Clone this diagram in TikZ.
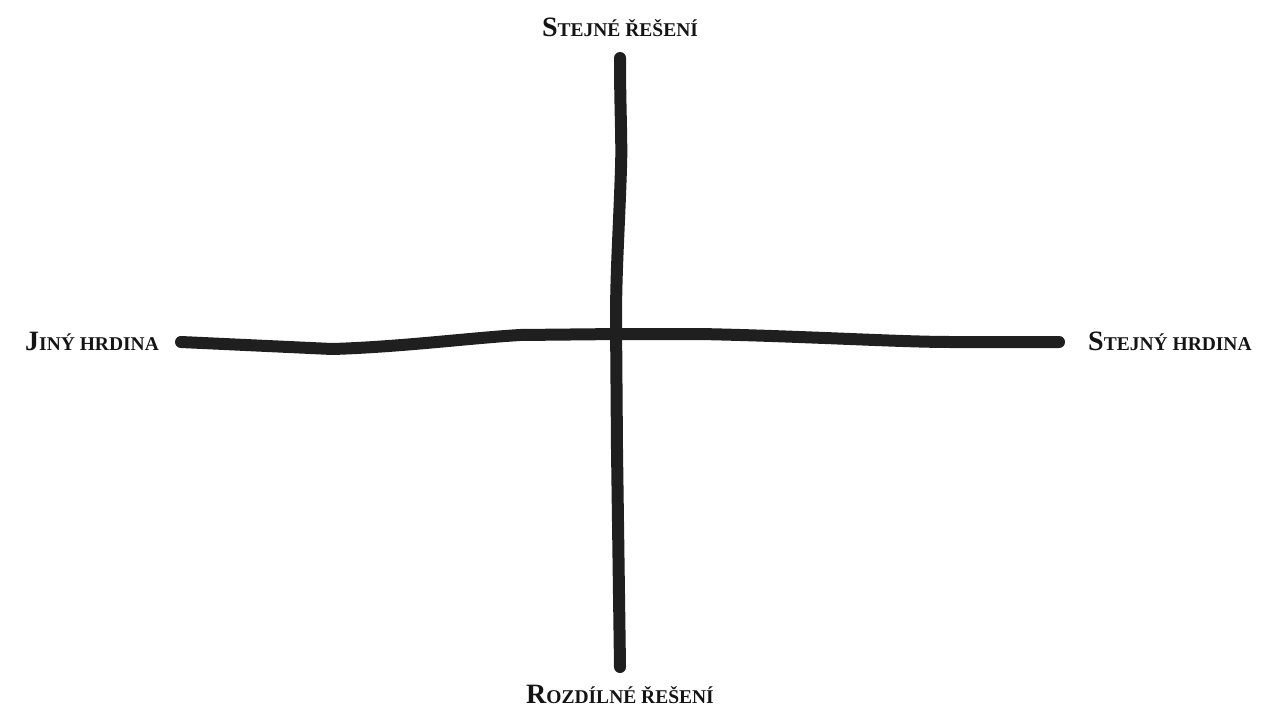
\documentclass[tikz,border=0pt]{standalone}
\usepackage{fontspec}
\setmainfont{Liberation Serif}
\newcommand{\capslbl}[2]{{\bfseries\fontsize{28}{28}\selectfont #1}{\bfseries\fontsize{19.5}{20}\selectfont #2}}
\begin{document}
\begin{tikzpicture}[x=1pt,y=-1pt,
  axisline/.style={line width=12pt, color=black!88, line cap=round, line join=round},
  lbl/.style={inner sep=0pt, text=black!92}]
\useasboundingbox (0,0) rectangle (1284,709);
\coordinate (top) at (620,58);
\coordinate (bot) at (620,667);
\coordinate (lft) at (181,342);
\coordinate (rgt) at (1059,342);
\draw[axisline] (top) .. controls (620,110) and (622,140) .. (621,168)
  .. controls (619,230) and (616,270) .. (616,320)
  -- (617,450) -- (bot);
\draw[axisline] (lft) -- (332,349) .. controls (400,347) and (470,338) .. (520,335)
  -- (620,334) -- (700,334) .. controls (800,336) and (900,342) .. (950,342) -- (rgt);
\node[lbl, anchor=base] (tl) at (620,37) {\capslbl{S}{TEJNÉ ŘEŠENÍ}};
\node[lbl, anchor=base] (bl) at (620,703) {\capslbl{R}{OZDÍLNÉ ŘEŠENÍ}};
\node[lbl, anchor=base west] (ll) at (25,350) {\capslbl{J}{INÝ HRDINA}};
\node[lbl, anchor=base west] (rl) at (1088,350) {\capslbl{S}{TEJNÝ HRDINA}};
\end{tikzpicture}
\end{document}
